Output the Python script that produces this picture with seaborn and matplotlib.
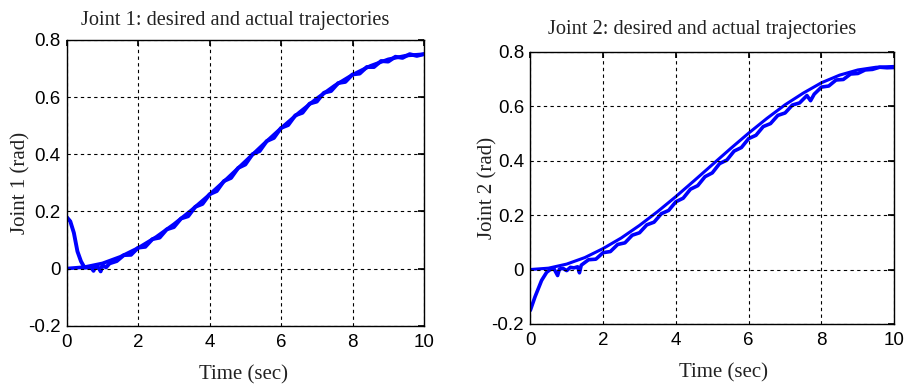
import numpy as np
import pandas as pd
import matplotlib
matplotlib.use("Agg")
import matplotlib.pyplot as plt
import seaborn as sns

# ---- data -----------------------------------------------------------------
t_des = [0.0, 0.5, 1.0, 1.5, 2.0, 2.5, 3.0, 3.5, 4.0, 4.5, 5.0,
         5.5, 6.0, 6.5, 7.0, 7.5, 8.0, 8.5, 9.0, 9.5, 10.0]

q1_des = [0.0, 0.005, 0.018, 0.041, 0.072, 0.110, 0.155, 0.205, 0.259, 0.316, 0.375,
          0.434, 0.491, 0.545, 0.595, 0.640, 0.678, 0.709, 0.732, 0.745, 0.750]

q2_des = [0.0, 0.005, 0.020, 0.044, 0.077, 0.116, 0.162, 0.213, 0.268, 0.326, 0.385,
          0.444, 0.501, 0.555, 0.605, 0.648, 0.686, 0.714, 0.733, 0.743, 0.746]

t_act1 = [0.0, 0.1, 0.2, 0.3, 0.4, 0.5, 0.6, 0.7, 0.75, 0.8, 0.9, 0.95, 1.0, 1.1,
          1.2, 1.4, 1.6, 1.8, 2.0, 2.2, 2.4, 2.6, 2.8, 3.0, 3.2, 3.4, 3.6, 3.8,
          4.0, 4.2, 4.4, 4.6, 4.8, 5.0, 5.2, 5.4, 5.6, 5.8, 6.0, 6.2, 6.4, 6.6,
          6.8, 7.0, 7.2, 7.4, 7.6, 7.8, 8.0, 8.2, 8.4, 8.6, 8.8, 9.0, 9.2, 9.4,
          9.6, 9.8, 10.0]
q1_act = [0.180, 0.165, 0.125, 0.060, 0.025, 0.003, 0.004, 0.001, -0.008, 0.006,
          0.002, -0.010, 0.012, 0.004, 0.018,
          0.026, 0.047, 0.048, 0.073, 0.076, 0.103, 0.108, 0.137, 0.145, 0.175,
          0.183, 0.216, 0.226, 0.260, 0.271, 0.306, 0.317, 0.352, 0.364, 0.400,
          0.411, 0.446, 0.457, 0.492, 0.502, 0.536, 0.545, 0.577, 0.584, 0.615,
          0.621, 0.649, 0.653, 0.679, 0.682, 0.705, 0.705, 0.726, 0.724, 0.741,
          0.737, 0.750, 0.744, 0.750]

t_act2 = [0.0, 0.13, 0.31, 0.45, 0.55, 0.65, 0.75, 0.8, 0.9, 1.0, 1.1, 1.2, 1.3,
          1.35, 1.4, 1.6, 1.8, 2.0, 2.2, 2.4, 2.6, 2.8, 3.0, 3.2, 3.4, 3.6, 3.8,
          4.0, 4.2, 4.4, 4.6, 4.8, 5.0, 5.2, 5.4, 5.6, 5.8, 6.0, 6.2, 6.4, 6.6,
          6.8, 7.0, 7.2, 7.4, 7.6, 7.7, 7.8, 8.0, 8.2, 8.4, 8.6, 8.8, 9.0, 9.2,
          9.4, 9.6, 9.8, 10.0]
q2_act = [-0.150, -0.100, -0.040, -0.010, 0.000, 0.003, -0.022, 0.002, 0.004,
          -0.004, 0.008, 0.006, 0.010, -0.012, 0.016,
          0.036, 0.038, 0.062, 0.066, 0.092, 0.098, 0.126, 0.135, 0.164, 0.174,
          0.205, 0.217, 0.249, 0.262, 0.295, 0.308, 0.341, 0.355, 0.389, 0.402,
          0.435, 0.448, 0.481, 0.493, 0.525, 0.536, 0.566, 0.575, 0.604, 0.612,
          0.639, 0.620, 0.644, 0.670, 0.674, 0.696, 0.698, 0.718, 0.720, 0.733,
          0.735, 0.743, 0.741, 0.742]

titles = ["Joint 1: desired and actual trajectories",
          "Joint 2: desired and actual trajectories"]
ylabels = ["Joint 1 (rad)", "Joint 2 (rad)"]
xlabel = "Time (sec)"
xticks = [0, 2, 4, 6, 8, 10]
yticks = [-0.2, 0, 0.2, 0.4, 0.6, 0.8]
ytick_labels = ["-0.2", "0", "0.2", "0.4", "0.6", "0.8"]

# ---- style ----------------------------------------------------------------
sns.set_theme(style="white")
plt.rcParams.update({
    "font.family": ["Liberation Sans", "DejaVu Sans"],
    "axes.edgecolor": "black",
    "axes.linewidth": 1.0,
    "xtick.direction": "in",
    "ytick.direction": "in",
    "xtick.top": True,
    "ytick.right": True,
    "xtick.major.size": 4,
    "ytick.major.size": 4,
    "xtick.color": "black",
    "ytick.color": "black",
})

BLUE = "#0000ff"
TEXT = "#222222"
serif = ["Liberation Serif", "DejaVu Serif"]

fig = plt.figure(figsize=(9.09, 3.91), dpi=100)
axes = [fig.add_axes([0.0734, 0.167, 0.393, 0.731]),
        fig.add_axes([0.5834, 0.1714, 0.4004, 0.6964])]

panels = [
    (t_des, q1_des, t_act1, q1_act, 2.6, 2.8),
    (t_des, q2_des, t_act2, q2_act, 2.2, 2.6),
]
title_pads = [11, 13]
title_x = [0.472, 0.4725]
ylabel_pads = [-2, -4]
xlabel_x = [0.495, 0.53]

for i, (ax, (td, qd, ta, qa, lw_d, lw_a)) in enumerate(zip(axes, panels)):
    des = pd.DataFrame({"t": td, "q": qd})
    act = pd.DataFrame({"t": ta, "q": qa})
    sns.lineplot(data=des, x="t", y="q", ax=ax, color=BLUE, lw=lw_d,
                 estimator=None, sort=False)
    sns.lineplot(data=act, x="t", y="q", ax=ax, color=BLUE, lw=lw_a,
                 estimator=None, sort=False)

    ax.set_xlim(0, 10)
    ax.set_ylim(-0.2, 0.8)
    ax.set_xticks(xticks)
    ax.set_xticklabels([str(v) for v in xticks])
    ax.set_yticks(yticks)
    ax.set_yticklabels(ytick_labels)
    ax.tick_params(axis="y", labelsize=13.5, pad=4.5)
    ax.tick_params(axis="x", labelsize=13.5, pad=6)
    ax.grid(True, color="black", linestyle=(0, (3, 3)), linewidth=0.8)
    ax.set_axisbelow(False)
    for s in ax.spines.values():
        s.set_visible(True)
        s.set_color("black")

    ax.set_title(titles[i], family=serif, fontsize=14.7, color=TEXT,
                 pad=title_pads[i], x=title_x[i])
    ax.set_xlabel(xlabel, family=serif, fontsize=15, color=TEXT, labelpad=10)
    ax.xaxis.label.set_x(xlabel_x[i])
    ax.set_ylabel(ylabels[i], family=serif, fontsize=15, color=TEXT,
                  labelpad=ylabel_pads[i])

fig.savefig("out.png", dpi=100)
